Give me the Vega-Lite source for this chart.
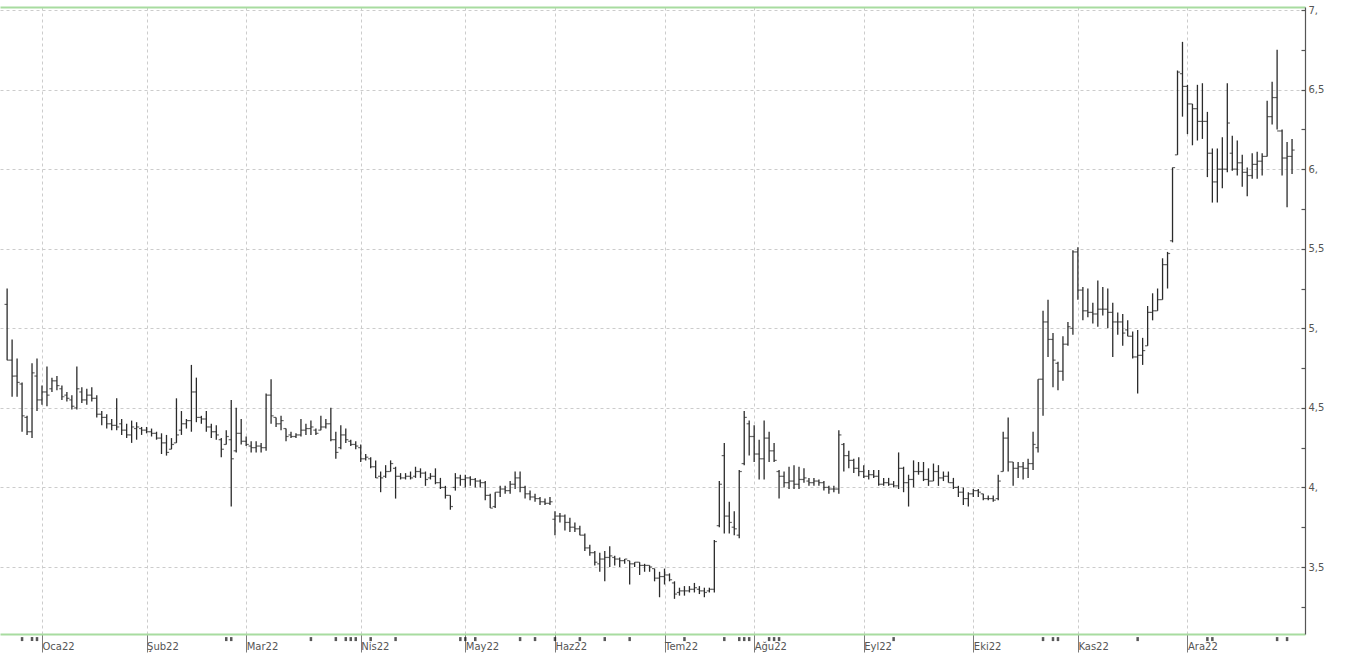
{
"$schema": "https://vega.github.io/schema/vega-lite/v6.json",
"width": 1305, "height": 627,
"padding": {"left": 0, "top": 5, "right": 0, "bottom": 0},
"autosize": {"type": "pad"},
"background": "white",
"config": {"view": {"stroke": null}, "font": "DejaVu Sans"},
"data": {"values": [
{"t":-7,"o":5.15,"h":5.25,"l":4.80,"c":4.80},
{"t":-6,"o":4.80,"h":4.93,"l":4.57,"c":4.70},
{"t":-5,"o":4.70,"h":4.81,"l":4.57,"c":4.66},
{"t":-4,"o":4.65,"h":4.66,"l":4.35,"c":4.45,"m":1},
{"t":-3,"o":4.44,"h":4.45,"l":4.33,"c":4.35},
{"t":-2,"o":4.35,"h":4.78,"l":4.31,"c":4.72,"m":1},
{"t":-1,"o":4.70,"h":4.81,"l":4.48,"c":4.55,"m":1},
{"t":0,"o":4.55,"h":4.64,"l":4.52,"c":4.60},
{"t":1,"o":4.60,"h":4.76,"l":4.51,"c":4.58},
{"t":2,"o":4.62,"h":4.69,"l":4.60,"c":4.67},
{"t":3,"o":4.67,"h":4.70,"l":4.61,"c":4.64},
{"t":4,"o":4.62,"h":4.64,"l":4.55,"c":4.57},
{"t":5,"o":4.58,"h":4.60,"l":4.54,"c":4.56},
{"t":6,"o":4.55,"h":4.58,"l":4.49,"c":4.51},
{"t":7,"o":4.50,"h":4.76,"l":4.49,"c":4.62},
{"t":8,"o":4.60,"h":4.63,"l":4.53,"c":4.55},
{"t":9,"o":4.55,"h":4.62,"l":4.52,"c":4.58},
{"t":10,"o":4.58,"h":4.63,"l":4.54,"c":4.56},
{"t":11,"o":4.56,"h":4.58,"l":4.44,"c":4.46},
{"t":12,"o":4.46,"h":4.48,"l":4.39,"c":4.44},
{"t":13,"o":4.44,"h":4.46,"l":4.37,"c":4.40},
{"t":14,"o":4.40,"h":4.43,"l":4.36,"c":4.39},
{"t":15,"o":4.39,"h":4.56,"l":4.36,"c":4.38},
{"t":16,"o":4.40,"h":4.43,"l":4.33,"c":4.36},
{"t":17,"o":4.36,"h":4.40,"l":4.31,"c":4.33},
{"t":18,"o":4.33,"h":4.42,"l":4.28,"c":4.38},
{"t":19,"o":4.37,"h":4.41,"l":4.30,"c":4.38},
{"t":20,"o":4.37,"h":4.38,"l":4.33,"c":4.36},
{"t":21,"o":4.36,"h":4.38,"l":4.34,"c":4.35},
{"t":22,"o":4.35,"h":4.37,"l":4.32,"c":4.34},
{"t":23,"o":4.34,"h":4.35,"l":4.30,"c":4.31},
{"t":24,"o":4.31,"h":4.34,"l":4.21,"c":4.28},
{"t":25,"o":4.28,"h":4.33,"l":4.20,"c":4.22},
{"t":26,"o":4.24,"h":4.31,"l":4.24,"c":4.27},
{"t":27,"o":4.28,"h":4.56,"l":4.28,"c":4.33},
{"t":28,"o":4.36,"h":4.48,"l":4.33,"c":4.40},
{"t":29,"o":4.40,"h":4.43,"l":4.37,"c":4.42},
{"t":30,"o":4.42,"h":4.77,"l":4.35,"c":4.60},
{"t":31,"o":4.60,"h":4.69,"l":4.41,"c":4.44},
{"t":32,"o":4.44,"h":4.45,"l":4.40,"c":4.43},
{"t":33,"o":4.43,"h":4.48,"l":4.35,"c":4.38},
{"t":34,"o":4.38,"h":4.40,"l":4.31,"c":4.35},
{"t":35,"o":4.35,"h":4.39,"l":4.30,"c":4.33},
{"t":36,"o":4.30,"h":4.31,"l":4.19,"c":4.24},
{"t":37,"o":4.27,"h":4.36,"l":4.27,"c":4.32,"m":1},
{"t":38,"o":4.30,"h":4.55,"l":3.88,"c":4.18,"m":1},
{"t":39,"o":4.23,"h":4.50,"l":4.22,"c":4.34},
{"t":40,"o":4.34,"h":4.43,"l":4.27,"c":4.29},
{"t":41,"o":4.29,"h":4.32,"l":4.26,"c":4.27},
{"t":42,"o":4.26,"h":4.29,"l":4.22,"c":4.25},
{"t":43,"o":4.25,"h":4.29,"l":4.22,"c":4.26},
{"t":44,"o":4.26,"h":4.28,"l":4.22,"c":4.25},
{"t":45,"o":4.25,"h":4.59,"l":4.23,"c":4.58},
{"t":46,"o":4.58,"h":4.68,"l":4.40,"c":4.45},
{"t":47,"o":4.44,"h":4.44,"l":4.38,"c":4.40},
{"t":48,"o":4.40,"h":4.45,"l":4.36,"c":4.42},
{"t":49,"o":4.37,"h":4.37,"l":4.29,"c":4.32},
{"t":50,"o":4.33,"h":4.35,"l":4.31,"c":4.32},
{"t":51,"o":4.32,"h":4.34,"l":4.31,"c":4.33},
{"t":52,"o":4.33,"h":4.43,"l":4.32,"c":4.36},
{"t":53,"o":4.36,"h":4.40,"l":4.33,"c":4.37},
{"t":54,"o":4.37,"h":4.42,"l":4.33,"c":4.38,"m":1},
{"t":55,"o":4.36,"h":4.37,"l":4.33,"c":4.34},
{"t":56,"o":4.36,"h":4.45,"l":4.36,"c":4.38},
{"t":57,"o":4.38,"h":4.43,"l":4.37,"c":4.40},
{"t":58,"o":4.40,"h":4.50,"l":4.29,"c":4.30},
{"t":59,"o":4.30,"h":4.35,"l":4.18,"c":4.22,"m":1},
{"t":60,"o":4.25,"h":4.39,"l":4.24,"c":4.33},
{"t":61,"o":4.33,"h":4.37,"l":4.28,"c":4.30,"m":1},
{"t":62,"o":4.29,"h":4.30,"l":4.26,"c":4.27,"m":1},
{"t":63,"o":4.27,"h":4.29,"l":4.24,"c":4.26,"m":1},
{"t":64,"o":4.25,"h":4.27,"l":4.16,"c":4.18},
{"t":65,"o":4.18,"h":4.21,"l":4.17,"c":4.19},
{"t":66,"o":4.18,"h":4.19,"l":4.12,"c":4.13,"m":1},
{"t":67,"o":4.13,"h":4.17,"l":4.06,"c":4.06},
{"t":68,"o":4.07,"h":4.10,"l":3.97,"c":4.06},
{"t":69,"o":4.07,"h":4.14,"l":4.06,"c":4.10},
{"t":70,"o":4.10,"h":4.17,"l":4.10,"c":4.15},
{"t":71,"o":4.12,"h":4.13,"l":3.93,"c":4.07,"m":1},
{"t":72,"o":4.07,"h":4.09,"l":4.05,"c":4.06},
{"t":73,"o":4.06,"h":4.09,"l":4.05,"c":4.07},
{"t":74,"o":4.07,"h":4.10,"l":4.05,"c":4.06},
{"t":75,"o":4.07,"h":4.13,"l":4.06,"c":4.10},
{"t":76,"o":4.10,"h":4.12,"l":4.06,"c":4.09},
{"t":77,"o":4.09,"h":4.10,"l":4.01,"c":4.05},
{"t":78,"o":4.06,"h":4.09,"l":4.05,"c":4.07},
{"t":79,"o":4.07,"h":4.12,"l":4.02,"c":4.03},
{"t":80,"o":4.03,"h":4.06,"l":3.99,"c":4.00},
{"t":81,"o":4.00,"h":4.01,"l":3.93,"c":3.95},
{"t":82,"o":3.95,"h":3.95,"l":3.86,"c":3.88},
{"t":83,"o":4.00,"h":4.09,"l":3.98,"c":4.06},
{"t":84,"o":4.06,"h":4.08,"l":4.01,"c":4.05,"m":1},
{"t":85,"o":4.05,"h":4.08,"l":4.00,"c":4.06,"m":1},
{"t":86,"o":4.06,"h":4.07,"l":4.01,"c":4.05},
{"t":87,"o":4.05,"h":4.06,"l":4.00,"c":4.04,"m":1},
{"t":88,"o":4.04,"h":4.05,"l":4.00,"c":4.03},
{"t":89,"o":4.03,"h":4.04,"l":3.92,"c":3.95},
{"t":90,"o":3.95,"h":3.96,"l":3.87,"c":3.87},
{"t":91,"o":3.88,"h":3.97,"l":3.87,"c":3.97},
{"t":92,"o":3.97,"h":4.01,"l":3.94,"c":3.99},
{"t":93,"o":3.99,"h":4.01,"l":3.96,"c":3.98},
{"t":94,"o":3.98,"h":4.04,"l":3.96,"c":4.02},
{"t":95,"o":4.02,"h":4.10,"l":3.99,"c":4.06},
{"t":96,"o":4.06,"h":4.10,"l":3.97,"c":4.00,"m":1},
{"t":97,"o":4.00,"h":4.01,"l":3.93,"c":3.96},
{"t":98,"o":3.96,"h":3.98,"l":3.92,"c":3.94},
{"t":99,"o":3.94,"h":3.96,"l":3.91,"c":3.93,"m":1},
{"t":100,"o":3.93,"h":3.94,"l":3.89,"c":3.91},
{"t":101,"o":3.91,"h":3.93,"l":3.89,"c":3.90},
{"t":102,"o":3.90,"h":3.94,"l":3.89,"c":3.91},
{"t":103,"o":3.80,"h":3.85,"l":3.70,"c":3.82,"m":1},
{"t":104,"o":3.82,"h":3.84,"l":3.78,"c":3.82},
{"t":105,"o":3.82,"h":3.83,"l":3.73,"c":3.78},
{"t":106,"o":3.78,"h":3.81,"l":3.72,"c":3.75},
{"t":107,"o":3.75,"h":3.78,"l":3.72,"c":3.74},
{"t":108,"o":3.74,"h":3.76,"l":3.70,"c":3.70,"m":1},
{"t":109,"o":3.70,"h":3.71,"l":3.60,"c":3.62},
{"t":110,"o":3.62,"h":3.64,"l":3.57,"c":3.59},
{"t":111,"o":3.59,"h":3.60,"l":3.51,"c":3.53},
{"t":112,"o":3.52,"h":3.59,"l":3.47,"c":3.55},
{"t":113,"o":3.55,"h":3.60,"l":3.41,"c":3.56,"m":1},
{"t":114,"o":3.56,"h":3.63,"l":3.50,"c":3.57},
{"t":115,"o":3.56,"h":3.57,"l":3.51,"c":3.55},
{"t":116,"o":3.55,"h":3.56,"l":3.50,"c":3.54},
{"t":117,"o":3.54,"h":3.55,"l":3.52,"c":3.55},
{"t":118,"o":3.54,"h":3.54,"l":3.39,"c":3.52,"m":1},
{"t":119,"o":3.52,"h":3.53,"l":3.50,"c":3.53},
{"t":120,"o":3.53,"h":3.53,"l":3.45,"c":3.51},
{"t":121,"o":3.51,"h":3.52,"l":3.47,"c":3.51},
{"t":122,"o":3.51,"h":3.51,"l":3.47,"c":3.50},
{"t":123,"o":3.49,"h":3.49,"l":3.41,"c":3.43},
{"t":124,"o":3.43,"h":3.47,"l":3.31,"c":3.44},
{"t":125,"o":3.44,"h":3.49,"l":3.39,"c":3.45},
{"t":126,"o":3.45,"h":3.46,"l":3.41,"c":3.42},
{"t":127,"o":3.40,"h":3.41,"l":3.30,"c":3.33},
{"t":128,"o":3.34,"h":3.37,"l":3.32,"c":3.35},
{"t":129,"o":3.35,"h":3.38,"l":3.32,"c":3.35,"m":1},
{"t":130,"o":3.35,"h":3.38,"l":3.34,"c":3.36},
{"t":131,"o":3.36,"h":3.40,"l":3.34,"c":3.37},
{"t":132,"o":3.36,"h":3.38,"l":3.33,"c":3.35},
{"t":133,"o":3.35,"h":3.37,"l":3.31,"c":3.34},
{"t":134,"o":3.35,"h":3.37,"l":3.34,"c":3.36},
{"t":135,"o":3.36,"h":3.67,"l":3.34,"c":3.66},
{"t":136,"o":3.76,"h":4.04,"l":3.75,"c":4.02},
{"t":137,"o":4.20,"h":4.28,"l":3.71,"c":3.82,"m":1},
{"t":138,"o":3.82,"h":3.91,"l":3.71,"c":3.78},
{"t":139,"o":3.75,"h":3.85,"l":3.70,"c":3.74},
{"t":140,"o":3.70,"h":4.11,"l":3.68,"c":4.10,"m":1},
{"t":141,"o":4.15,"h":4.48,"l":4.14,"c":4.44,"m":1},
{"t":142,"o":4.40,"h":4.42,"l":4.20,"c":4.32,"m":1},
{"t":143,"o":4.32,"h":4.39,"l":4.16,"c":4.21},
{"t":144,"o":4.21,"h":4.30,"l":4.05,"c":4.18},
{"t":145,"o":4.18,"h":4.42,"l":4.05,"c":4.31},
{"t":146,"o":4.31,"h":4.35,"l":4.16,"c":4.23,"m":1},
{"t":147,"o":4.23,"h":4.28,"l":4.16,"c":4.17,"m":1},
{"t":148,"o":4.10,"h":4.11,"l":3.93,"c":4.07,"m":1},
{"t":149,"o":4.07,"h":4.10,"l":4.00,"c":4.03},
{"t":150,"o":4.03,"h":4.13,"l":3.99,"c":4.04},
{"t":151,"o":4.04,"h":4.14,"l":3.99,"c":4.02},
{"t":152,"o":4.02,"h":4.13,"l":3.99,"c":4.05},
{"t":153,"o":4.05,"h":4.12,"l":4.03,"c":4.06},
{"t":154,"o":4.04,"h":4.06,"l":4.01,"c":4.03},
{"t":155,"o":4.03,"h":4.06,"l":4.01,"c":4.04},
{"t":156,"o":4.04,"h":4.05,"l":4.01,"c":4.03},
{"t":157,"o":4.03,"h":4.04,"l":3.98,"c":4.00},
{"t":158,"o":4.00,"h":4.01,"l":3.96,"c":3.99},
{"t":159,"o":3.99,"h":4.01,"l":3.97,"c":3.99},
{"t":160,"o":3.99,"h":4.36,"l":3.96,"c":4.33},
{"t":161,"o":4.27,"h":4.28,"l":4.10,"c":4.20},
{"t":162,"o":4.20,"h":4.23,"l":4.12,"c":4.17},
{"t":163,"o":4.17,"h":4.18,"l":4.09,"c":4.12},
{"t":164,"o":4.12,"h":4.19,"l":4.07,"c":4.10},
{"t":165,"o":4.10,"h":4.14,"l":4.06,"c":4.07},
{"t":166,"o":4.07,"h":4.11,"l":4.05,"c":4.08},
{"t":167,"o":4.08,"h":4.11,"l":4.06,"c":4.07},
{"t":168,"o":4.07,"h":4.11,"l":4.01,"c":4.02},
{"t":169,"o":4.02,"h":4.06,"l":4.01,"c":4.03},
{"t":170,"o":4.03,"h":4.06,"l":4.01,"c":4.02},
{"t":171,"o":4.02,"h":4.04,"l":4.00,"c":4.01,"m":1},
{"t":172,"o":4.01,"h":4.22,"l":3.99,"c":4.12},
{"t":173,"o":4.12,"h":4.13,"l":3.97,"c":4.03},
{"t":174,"o":4.03,"h":4.08,"l":3.88,"c":4.05},
{"t":175,"o":4.05,"h":4.17,"l":4.00,"c":4.10},
{"t":176,"o":4.10,"h":4.16,"l":4.08,"c":4.10},
{"t":177,"o":4.10,"h":4.16,"l":4.04,"c":4.05},
{"t":178,"o":4.05,"h":4.12,"l":4.01,"c":4.04},
{"t":179,"o":4.04,"h":4.15,"l":4.04,"c":4.10},
{"t":180,"o":4.10,"h":4.14,"l":4.01,"c":4.06},
{"t":181,"o":4.06,"h":4.10,"l":4.04,"c":4.07},
{"t":182,"o":4.07,"h":4.10,"l":4.03,"c":4.03},
{"t":183,"o":4.03,"h":4.06,"l":3.99,"c":4.00},
{"t":184,"o":4.00,"h":4.01,"l":3.94,"c":3.97},
{"t":185,"o":3.97,"h":4.00,"l":3.89,"c":3.93},
{"t":186,"o":3.93,"h":3.97,"l":3.88,"c":3.96},
{"t":187,"o":3.96,"h":3.99,"l":3.94,"c":3.98},
{"t":188,"o":3.98,"h":3.99,"l":3.94,"c":3.97},
{"t":189,"o":3.96,"h":3.96,"l":3.92,"c":3.93},
{"t":190,"o":3.93,"h":3.95,"l":3.92,"c":3.93},
{"t":191,"o":3.93,"h":3.95,"l":3.91,"c":3.92},
{"t":192,"o":3.93,"h":4.08,"l":3.92,"c":4.04},
{"t":193,"o":4.10,"h":4.35,"l":4.10,"c":4.31},
{"t":194,"o":4.31,"h":4.44,"l":4.10,"c":4.16},
{"t":195,"o":4.16,"h":4.16,"l":4.01,"c":4.12},
{"t":196,"o":4.12,"h":4.16,"l":4.06,"c":4.13},
{"t":197,"o":4.13,"h":4.16,"l":4.05,"c":4.12},
{"t":198,"o":4.12,"h":4.18,"l":4.06,"c":4.15},
{"t":199,"o":4.15,"h":4.35,"l":4.11,"c":4.27},
{"t":200,"o":4.25,"h":4.68,"l":4.22,"c":4.68},
{"t":201,"o":4.68,"h":5.11,"l":4.45,"c":5.04,"m":1},
{"t":202,"o":5.04,"h":5.18,"l":4.82,"c":4.93},
{"t":203,"o":4.93,"h":4.97,"l":4.63,"c":4.80,"m":1},
{"t":204,"o":4.78,"h":4.79,"l":4.61,"c":4.73,"m":1},
{"t":205,"o":4.73,"h":4.95,"l":4.67,"c":4.90},
{"t":206,"o":4.90,"h":5.04,"l":4.89,"c":5.01},
{"t":207,"o":5.00,"h":5.49,"l":4.96,"c":5.48},
{"t":208,"o":5.48,"h":5.51,"l":5.18,"c":5.24},
{"t":209,"o":5.24,"h":5.26,"l":5.05,"c":5.11},
{"t":210,"o":5.11,"h":5.25,"l":5.07,"c":5.10},
{"t":211,"o":5.10,"h":5.16,"l":5.03,"c":5.09},
{"t":212,"o":5.09,"h":5.30,"l":5.01,"c":5.12},
{"t":213,"o":5.12,"h":5.26,"l":5.08,"c":5.12},
{"t":214,"o":5.12,"h":5.25,"l":5.00,"c":5.10},
{"t":215,"o":5.10,"h":5.16,"l":4.82,"c":5.04},
{"t":216,"o":5.04,"h":5.10,"l":4.96,"c":5.04},
{"t":217,"o":5.04,"h":5.09,"l":4.89,"c":4.97},
{"t":218,"o":4.99,"h":5.05,"l":4.95,"c":4.95},
{"t":219,"o":4.95,"h":4.98,"l":4.81,"c":4.82},
{"t":220,"o":4.82,"h":4.99,"l":4.59,"c":4.83,"m":1},
{"t":221,"o":4.83,"h":4.94,"l":4.77,"c":4.86},
{"t":222,"o":4.89,"h":5.14,"l":4.89,"c":5.10},
{"t":223,"o":5.10,"h":5.22,"l":5.05,"c":5.11},
{"t":224,"o":5.11,"h":5.25,"l":5.11,"c":5.18},
{"t":225,"o":5.18,"h":5.44,"l":5.18,"c":5.40},
{"t":226,"o":5.40,"h":5.48,"l":5.25,"c":5.47},
{"t":227,"o":5.55,"h":6.01,"l":5.54,"c":6.01},
{"t":228,"o":6.09,"h":6.62,"l":6.09,"c":6.61},
{"t":229,"o":6.60,"h":6.80,"l":6.33,"c":6.52},
{"t":230,"o":6.52,"h":6.53,"l":6.22,"c":6.41},
{"t":231,"o":6.41,"h":6.41,"l":6.15,"c":6.38},
{"t":232,"o":6.38,"h":6.53,"l":6.18,"c":6.30},
{"t":233,"o":6.30,"h":6.54,"l":6.19,"c":6.30},
{"t":234,"o":6.30,"h":6.36,"l":5.95,"c":6.10,"m":1},
{"t":235,"o":6.10,"h":6.13,"l":5.79,"c":5.92,"m":1},
{"t":236,"o":5.92,"h":6.13,"l":5.79,"c":6.00},
{"t":237,"o":6.00,"h":6.20,"l":5.88,"c":6.00},
{"t":238,"o":6.00,"h":6.54,"l":5.98,"c":6.29},
{"t":239,"o":6.10,"h":6.21,"l":5.99,"c":6.00},
{"t":240,"o":6.00,"h":6.18,"l":5.96,"c":6.04},
{"t":241,"o":6.04,"h":6.09,"l":5.89,"c":5.98},
{"t":242,"o":5.98,"h":6.01,"l":5.83,"c":5.96},
{"t":243,"o":5.96,"h":6.10,"l":5.94,"c":6.03},
{"t":244,"o":6.03,"h":6.11,"l":5.94,"c":6.05},
{"t":245,"o":6.05,"h":6.10,"l":5.96,"c":6.08},
{"t":246,"o":6.08,"h":6.43,"l":6.08,"c":6.33},
{"t":247,"o":6.33,"h":6.55,"l":6.28,"c":6.45},
{"t":248,"o":6.45,"h":6.75,"l":6.25,"c":6.24,"m":1},
{"t":249,"o":6.24,"h":6.25,"l":5.96,"c":6.07},
{"t":250,"o":6.07,"h":6.17,"l":5.76,"c":6.08,"m":1},
{"t":251,"o":6.08,"h":6.19,"l":5.97,"c":6.12}
]},
"resolve": {"axis": {"x": "independent", "y": "independent"}},
"layer": [
 {
  "mark": {"type": "rule", "color": "#2b2b2b", "strokeWidth": 1.3},
  "encoding": {
   "x": {"field": "t", "type": "quantitative",
    "scale": {"domain": [-8.43, 253.6], "nice": false, "zero": false},
    "axis": {"orient": "bottom", "values": [0,21,41,64,85,103,125,143,165,187,208,230],
     "labelExpr": "['Oca22','Şub22','Mar22','Nis22','May22','Haz22','Tem22','Ağu22','Eyl22','Eki22','Kas22','Ara22'][indexof([0,21,41,64,85,103,125,143,165,187,208,230], datum.value)]",
     "title": null, "grid": true, "gridColor": "#cccccc", "gridDash": [3,3], "gridWidth": 1,
     "domainColor": "#a8dca0", "domainWidth": 2, "tickColor": "#7a7a7a", "tickSize": 18, "tickWidth": 1,
     "labelAlign": "left", "labelBaseline": "middle", "labelDx": 3, "labelPadding": -6,
     "labelColor": "#555555", "labelFontSize": 10, "labelFont": "DejaVu Sans", "labelOverlap": false, "labelFlush": false}},
   "y": {"field": "l", "type": "quantitative",
    "scale": {"domain": [3.079, 7.019], "nice": false, "zero": false},
    "axis": {"orient": "right", "title": null,
     "values": [3.25,3.5,3.75,4,4.25,4.5,4.75,5,5.25,5.5,5.75,6,6.25,6.5,6.75,7],
     "labelExpr": "datum.value % 0.5 !== 0 ? '' : (datum.value % 1 === 0 ? datum.value + ',' : replace(format(datum.value, '.1f'), '.', ','))",
     "grid": true, "gridColor": "#cccccc", "gridDash": [3,3],
     "gridOpacity": {"condition": {"test": "datum.value % 0.5 === 0", "value": 1}, "value": 0},
     "domainColor": "#555555", "domainWidth": 1.2, "tickColor": "#555555", "tickSize": -4, "tickWidth": 1.2,
     "labelPadding": 7, "labelColor": "#555555", "labelFontSize": 10, "labelFont": "DejaVu Sans", "labelFlush": false, "labelOverlap": false}},
   "y2": {"field": "h"}
  }
 },
 {
  "mark": {"type": "tick", "orient": "horizontal", "color": "#2b2b2b", "size": 2.6, "thickness": 1.2, "xOffset": -1.3},
  "encoding": {
   "x": {"field": "t", "type": "quantitative",
    "axis": {"orient": "top", "labels": false, "ticks": false, "grid": false, "title": null, "domainColor": "#a8dca0", "domainWidth": 2}},
   "y": {"field": "o", "type": "quantitative", "axis": null}
  }
 },
 {
  "mark": {"type": "tick", "orient": "horizontal", "color": "#2b2b2b", "size": 2.6, "thickness": 1.2, "xOffset": 1.3},
  "encoding": {
   "x": {"field": "t", "type": "quantitative", "axis": null},
   "y": {"field": "c", "type": "quantitative", "axis": null}
  }
 },
 {
  "transform": [{"filter": "datum.m === 1"}],
  "mark": {"type": "tick", "orient": "vertical", "color": "#111111", "size": 4, "thickness": 2.5, "clip": false},
  "encoding": {
   "x": {"field": "t", "type": "quantitative", "axis": null},
   "y": {"datum": 3.047, "type": "quantitative", "axis": null}
  }
 }
]
}
